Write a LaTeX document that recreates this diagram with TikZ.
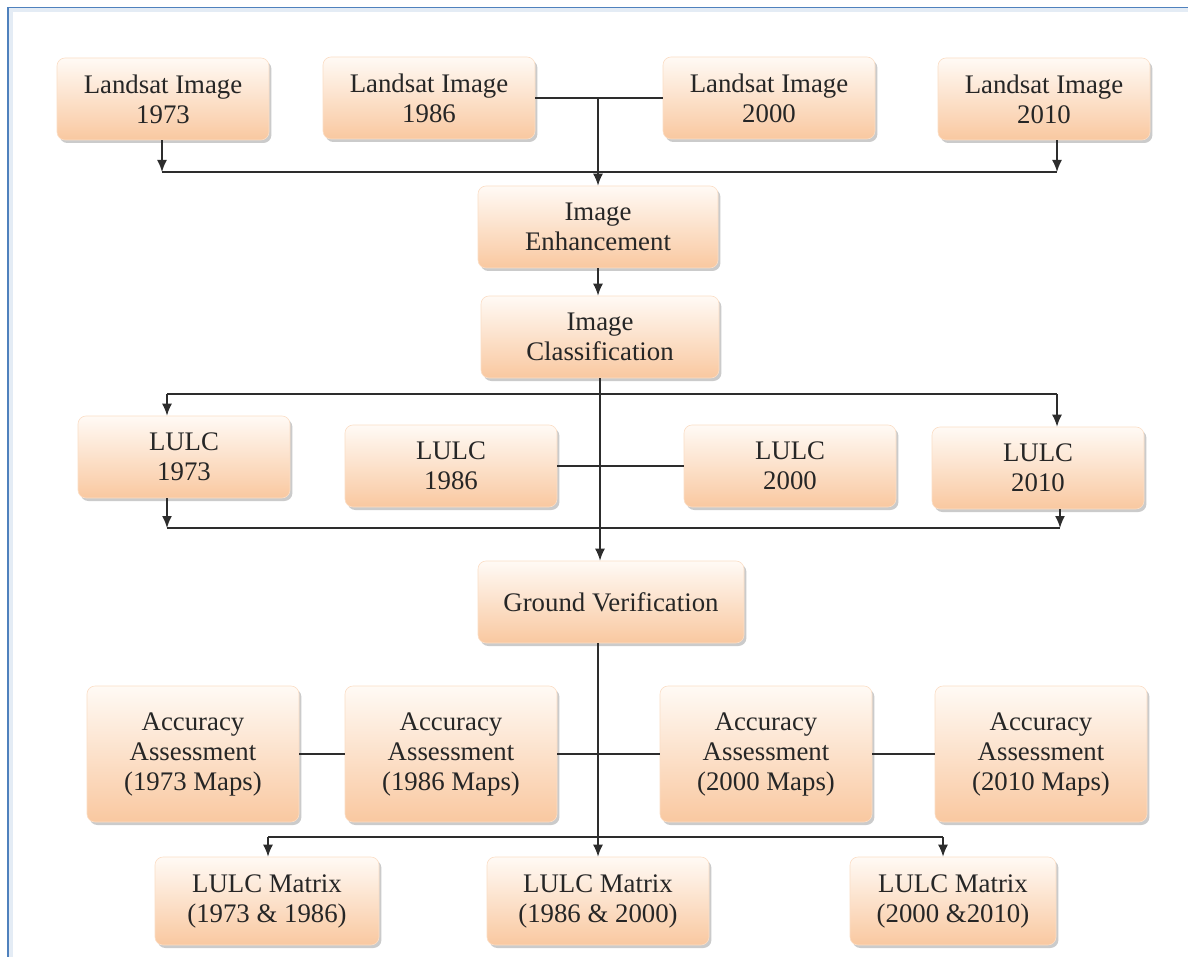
\documentclass[tikz,border=0pt]{standalone}
\usepackage{fontspec}
\setmainfont{Liberation Serif}
\usepackage{tikz}
\usetikzlibrary{arrows.meta,shadows}

\definecolor{peach}{RGB}{249,200,160}
\definecolor{peachtop}{RGB}{255,250,245}
\definecolor{frameblue}{RGB}{79,129,189}
\definecolor{wire}{RGB}{45,45,45}

\tikzset{
	procbox/.style={rectangle, rounded corners=4pt, draw=peach!60, line width=0.3pt,
		top color=peachtop, bottom color=peach, align=center, text=black!85,
		font=\fontsize{13.4}{15}\selectfont, inner sep=2pt,
		minimum width=106pt, minimum height=41pt,
		drop shadow={shadow xshift=1.2pt, shadow yshift=-1.5pt, fill=black!45, opacity=0.45}},
	link/.style={draw=wire, line width=0.8pt},
	flow/.style={link, -{Latex[length=6pt,width=5pt]}}
}

\begin{document}
\begin{tikzpicture}[x=0.5pt, y=-0.5pt]
				\useasboundingbox (0,0) rectangle (1188,957);
				\fill[white] (0,0) rectangle (1188,957);
				% frame
				\draw[frameblue, line width=1.3pt] (8,957) -- (8,8) -- (1188,8);
				\draw[frameblue!15, line width=2pt] (10.5,957) -- (10.5,10.5) -- (1188,10.5);
				
				% Landsat images
				\node (ls73) [procbox] at (163,99) {Landsat Image\\1973};
				\node (ls86) [procbox] at (429,98) {Landsat Image\\1986};
				\node (ls00) [procbox] at (769,98) {Landsat Image\\2000};
				\node (ls10) [procbox] at (1044,99) {Landsat Image\\2010};
				
				% processing
				\node (enh) [procbox, minimum width=120pt] at (598,227) {Image\\Enhancement};
				\node (cls) [procbox, minimum width=119pt] at (600,337) {Image\\Classification};
				
				% LULC maps
				\node (lu73) [procbox] at (184,457) {LULC\\1973};
				\node (lu86) [procbox] at (451,466) {LULC\\1986};
				\node (lu00) [procbox] at (790,466) {LULC\\2000};
				\node (lu10) [procbox] at (1038,468) {LULC\\2010};
				
				\node (gv) [procbox, minimum width=133pt] at (611,602) {Ground Verification};
				
				% accuracy
				\node (aa73) [procbox, minimum height=68pt] at (193,754) {Accuracy\\Assessment\\(1973 Maps)};
				\node (aa86) [procbox, minimum height=68pt] at (451,754) {Accuracy\\Assessment\\(1986 Maps)};
				\node (aa00) [procbox, minimum height=68pt] at (766,754) {Accuracy\\Assessment\\(2000 Maps)};
				\node (aa10) [procbox, minimum height=68pt] at (1041,754) {Accuracy\\Assessment\\(2010 Maps)};
				
				% matrices
				\node (mx1) [procbox, minimum width=112pt, minimum height=44pt] at (267,901) {LULC Matrix\\(1973 \& 1986)};
				\node (mx2) [procbox, minimum width=111pt, minimum height=44pt] at (598,901) {LULC Matrix\\(1986 \& 2000)};
				\node (mx3) [procbox, minimum width=103pt, minimum height=44pt] at (953,901) {LULC Matrix\\(2000 \&2010)};
				
				% bus points
				\coordinate (topL) at (162,172);
				\coordinate (topR) at (1057,172);
				\coordinate (clsL) at (167,394);
				\coordinate (clsR) at (1057,394);
				\coordinate (luL) at (167,528);
				\coordinate (luR) at (1060,528);
				\coordinate (mxL) at (268,837);
				\coordinate (mxR) at (943,837);
				
				% Arrows
				\draw[link] (ls86.east) -- (ls00.west);
				\draw[flow] (enh.north |- ls86.east) -- (enh.north);
				\draw[link] (topL) -- (topR);
				\draw[flow] (topL |- ls73.south) -- (topL);
				\draw[flow] (topR |- ls10.south) -- (topR);
				\draw[flow] (enh.south) -- (enh.south |- cls.north);
				\draw[flow] (cls.south) -- (cls.south |- gv.north);
				\draw[link] (clsL) -- (clsR);
				\draw[flow] (clsL) -- (clsL |- lu73.north);
				\draw[flow] (clsR) -- (clsR |- lu10.north);
				\draw[link] (lu86.east) -- (lu00.west);
				\draw[link] (luL) -- (luR);
				\draw[flow] (luL |- lu73.south) -- (luL);
				\draw[flow] (luR |- lu10.south) -- (luR);
				\draw[link] (aa73.east) -- (aa86.west);
				\draw[link] (aa86.east) -- (aa00.west);
				\draw[link] (aa00.east) -- (aa10.west);
				\draw[flow] (mx2.north |- gv.south) -- (mx2.north);
				\draw[link] (mxL) -- (mxR);
				\draw[flow] (mxL) -- (mxL |- mx1.north);
				\draw[flow] (mxR) -- (mxR |- mx3.north);
			\end{tikzpicture}
\end{document}
